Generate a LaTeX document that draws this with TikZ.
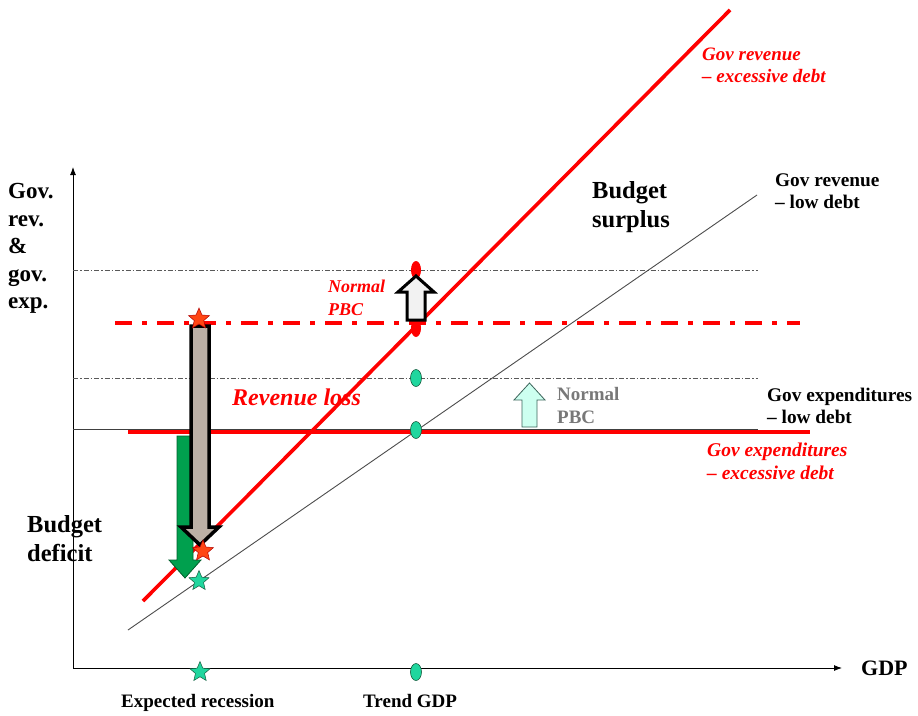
\documentclass[tikz,border=0pt]{standalone}
\usepackage{fontspec}
\setmainfont{Liberation Serif}
\usetikzlibrary{shapes.geometric,arrows.meta}
\definecolor{tq}{RGB}{32,214,158}
\definecolor{tqd}{RGB}{20,90,60}
\definecolor{agreen}{RGB}{0,160,78}
\definecolor{agreend}{RGB}{0,95,45}
\definecolor{granite}{RGB}{188,176,166}
\definecolor{lcyan}{RGB}{205,255,240}
\definecolor{lcyand}{RGB}{60,100,90}
\definecolor{starred}{RGB}{255,70,20}
\definecolor{pbcgray}{RGB}{120,120,120}
\tikzset{
  axis/.style={line width=0.9pt, black, -{Latex[length=8pt,width=6pt]}},
  redline/.style={line width=3.6pt, red},
  grayline/.style={line width=0.9pt, black!70},
  dashdotred/.style={line width=3.6pt, red, dash pattern=on 17pt off 10pt on 5pt off 10pt},
  thindd/.style={line width=0.7pt, black!65, dash pattern=on 5pt off 2pt on 1.5pt off 2pt},
  tqell/.style={ellipse, draw=tqd, fill=tq, line width=0.6pt, minimum width=11pt, minimum height=17pt, inner sep=0},
  redell/.style={ellipse, fill=red, minimum width=10pt, minimum height=18pt, inner sep=0},
  tqstar/.style={star, star points=5, star point ratio=2.2, draw=tqd, fill=tq, line width=0.5pt, minimum size=21pt, inner sep=0},
  redstar/.style={star, star points=5, star point ratio=2.2, draw=red!70!black, fill=starred, line width=0.5pt, minimum size=22pt, inner sep=0},
  blk/.style={inner sep=0, anchor=base west, font=\bfseries\fontsize{19.3}{21}\selectfont},
  small/.style={inner sep=0, anchor=base west, font=\bfseries\fontsize{19}{21}\selectfont},
  yl/.style={inner sep=0, anchor=base west, font=\bfseries\fontsize{23}{25}\selectfont},
  big/.style={inner sep=0, anchor=base west, font=\bfseries\fontsize{24.5}{26}\selectfont},
  redit/.style={inner sep=0, anchor=base west, text=red, font=\bfseries\itshape\fontsize{19}{21}\selectfont},
}
\begin{document}
\begin{tikzpicture}[x=1pt,y=-1pt]
\useasboundingbox (0,0) rectangle (918,715);

% axes
\coordinate (O) at (73,668);
\coordinate (Ytop) at (73,167);
\coordinate (Xend) at (842,668);
\draw[axis] (O) -- (Ytop);
\draw[axis] (O) -- (Xend);

% thin dash-dot guide lines
\coordinate (g1a) at (73,270); \coordinate (g1b) at (758,270);
\coordinate (g2a) at (73,378); \coordinate (g2b) at (758,378);
\draw[thindd] (g1a) -- (g1b);
\draw[thindd] (g2a) -- (g2b);

% thin black expenditure line (low debt)
\coordinate (ea) at (73,429); \coordinate (eb) at (758,429);
\draw[line width=0.9pt, black!75] (ea) -- (eb);

% red expenditure line (excessive debt)
\coordinate (ra) at (128,432); \coordinate (rb) at (810,432);
\draw[redline] (ra) -- (rb);

% red dash-dot line
\coordinate (da) at (115,323); \coordinate (db) at (800,323);
\draw[dashdotred] (da) -- (db);

% revenue lines
\coordinate (lowA) at (128,630); \coordinate (lowB) at (757,195);
\draw[grayline] (lowA) -- (lowB);
\coordinate (exA) at (143,601); \coordinate (exB) at (730,10);
\draw[redline] (exA) -- (exB);

% green arrow
\draw[draw=agreend, fill=agreen, line width=0.8pt, line join=miter]
  (177,436) -- (193,436) -- (193,560) -- (201,560) -- (185,578) -- (169,560) -- (177,560) -- cycle;

% big granite arrow
\draw[draw=black, fill=granite, line width=3.5pt, line join=miter]
  (191,326) -- (209,326) -- (209,527) -- (219,527) -- (200,545) -- (181,527) -- (191,527) -- cycle;

% red ellipses at trend GDP
\node[redell] (e1) at (416,270) {};
\node[redell] (e2) at (416,328) {};

% hollow arrow (Normal PBC, excessive debt)
\draw[draw=black, fill=black!5, line width=3pt, line join=miter]
  (407,320) -- (425,320) -- (425,292) -- (434,292) -- (416,276) -- (398,292) -- (407,292) -- cycle;

% light cyan arrow
\draw[draw=lcyand, fill=lcyan, line width=0.8pt, line join=miter]
  (522,427) -- (537,427) -- (537,400) -- (545,400) -- (529.5,383) -- (514,400) -- (522,400) -- cycle;

% turquoise ellipses
\node[tqell] (t1) at (416,378) {};
\node[tqell] (t2) at (416,430) {};
\node[tqell] (t3) at (416,672) {};

% stars
\node[redstar] (s1) at (199,319) {};
\node[redstar] (s2) at (203,551) {};
\node[tqstar] (s3) at (199,581) {};
\node[tqstar] (s4) at (200,672) {};

% labels
\node[yl] (y1) at (8,198) {Gov.};
\node[yl] (y2) at (8,226) {rev.};
\node[yl] (y3) at (8,253) {\&};
\node[yl] (y4) at (8,281) {gov.};
\node[yl] (y5) at (8,308) {exp.};

\node[big] (bs1) at (592,198) {Budget};
\node[big] (bs2) at (592,227) {surplus};

\node[big] (bd1) at (27,532) {Budget};
\node[big] (bd2) at (27,561) {deficit};

\node[yl, font=\bfseries\fontsize{22}{24}\selectfont] (gdp) at (861,675) {GDP};

\node[small] (er) at (121,707) {Expected recession};
\node[small] (tg) at (363,707) {Trend GDP};

\node[blk] (rl1) at (775,186) {Gov revenue};
\node[blk] (rl2) at (775,208) {-- low debt};

\node[blk] (el1) at (767,401) {Gov expenditures};
\node[blk] (el2) at (767,423) {-- low debt};

\node[redit] (rx1) at (702,60) {Gov revenue};
\node[redit] (rx2) at (702,82) {-- excessive debt};

\node[redit, font=\bfseries\itshape\fontsize{19.5}{21}\selectfont] (ex1) at (707,456) {Gov expenditures};
\node[redit, font=\bfseries\itshape\fontsize{19.5}{21}\selectfont] (ex2) at (707,479) {-- excessive debt};

\node[redit, font=\bfseries\itshape\fontsize{24}{26}\selectfont] (rloss) at (232,405) {Revenue loss};

\node[redit, font=\bfseries\itshape\fontsize{18}{20}\selectfont] (np1) at (328,292) {Normal};
\node[redit, font=\bfseries\itshape\fontsize{18}{20}\selectfont] (np2) at (328,315) {PBC};

\node[small, text=pbcgray] (ng1) at (557,400) {Normal};
\node[small, text=pbcgray] (ng2) at (557,423) {PBC};
\end{tikzpicture}
\end{document}
